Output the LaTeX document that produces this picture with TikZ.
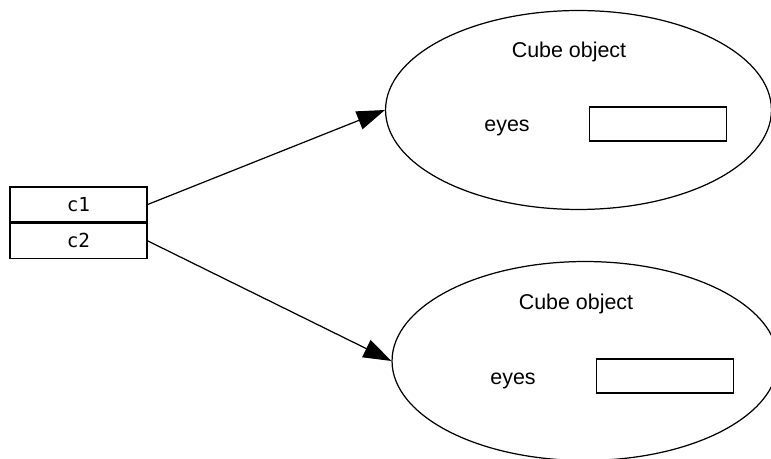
\documentclass[tikz,border=0pt]{standalone}
\usepackage{fontspec}
\setmainfont{Liberation Sans}
\setmonofont{DejaVu Sans Mono}
\usetikzlibrary{shapes.geometric,arrows.meta}
\begin{document}
\begin{tikzpicture}[x=0.02cm,y=-0.02cm,font=\fontsize{12.2}{14}\selectfont,
  slot/.style={draw,line width=0.8pt,minimum width=2.74cm,minimum height=0.7cm,inner sep=0pt,font=\ttfamily\fontsize{11}{13}\selectfont},
  cube/.style={draw,ellipse,line width=0.7pt,minimum width=7.72cm,minimum height=3.98cm,inner sep=0pt},
  field/.style={draw,line width=0.8pt,minimum width=2.74cm,minimum height=0.68cm,inner sep=0pt},
  ref/.style={line width=0.7pt,-{Triangle[length=0.56cm,width=0.38cm]}}]

            \useasboundingbox (0,0) rectangle (771,459);
            \clip (0,0) rectangle (771,459);

            % variables
            \node[slot] (c1) at (78.5,204.5) {c1};
            \node[slot,anchor=north] (c2) at (c1.south) {c2};

            % objects
            \node[cube] (obj1) at (578.5,110) {};
            \node (name1) at (569,52) {Cube object};
            \node (eyes1) at (507,128) {eyes};
            \node[field] (field1) at (658,124) {};

            \node[cube] (obj2) at (585,361) {};
            \node (name2) at (576,304) {Cube object};
            \node (eyes2) at (513,381) {eyes};
            \node[field] (field2) at (665,376) {};

            % references
            \draw[ref] (c1.east) -- (obj1.west);
            \draw[ref] (c2.east) -- (obj2.west);

        \end{tikzpicture}
\end{document}
